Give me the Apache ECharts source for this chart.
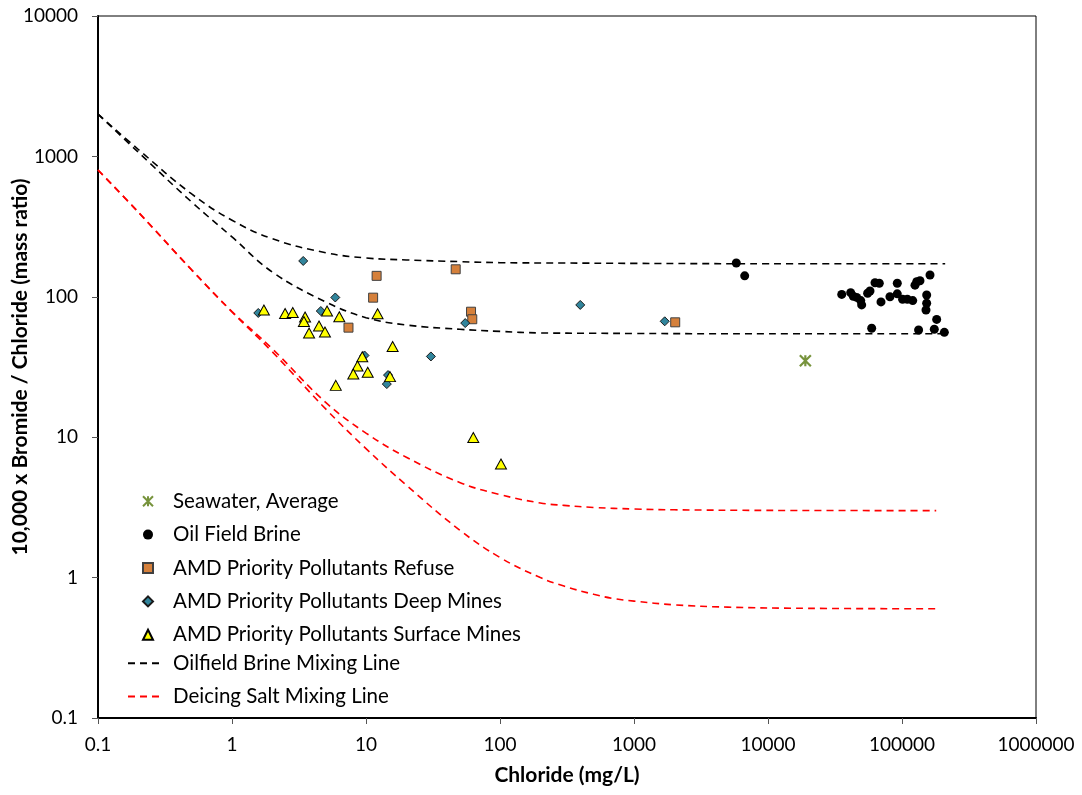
<!DOCTYPE html>
<html>
<head>
<meta charset="utf-8">
<script src="https://cdn.jsdelivr.net/npm/echarts@6/dist/echarts.min.js"></script>
<style>
  html, body { margin: 0; padding: 0; background: #fff; }
  #chart { width: 1082px; height: 795px; }
</style>
</head>
<body>
<div id="chart"></div>
<script>
// [chloride mg/L, 10000 x Br/Cl]
var seawater = [[19000, 35]];
var oilBrine = [
    [5800, 174], [6700, 141], [35500, 104], [41400, 107], [43300, 101], [45900, 99],
    [49200, 94], [50000, 87.5], [55400, 106], [57700, 110], [62900, 126], [67700, 125],
    [69700, 92], [81300, 100], [92200, 125], [92200, 105], [101000, 96], [109600, 96],
    [120200, 94], [125000, 121], [128800, 128], [136200, 130], [161800, 143], [152800, 103],
    [152800, 90], [151000, 80.5], [181500, 69], [59400, 59.7], [133000, 58], [174200, 58.7],
    [207000, 55.8]
];
var refuse = [[12.0, 141], [11.3, 98.6], [7.4, 60.3], [46.7, 157], [60.8, 78.3], [62.1, 69.2], [2030, 65.8]];
var deepMines = [
    [3.4, 180], [5.9, 98.9], [4.6, 79.2], [1.57, 76.7], [9.75, 38.2], [30.5, 37.6],
    [14.6, 27.7], [14.3, 23.9], [55, 65], [397, 87.5], [1695, 66.9]
];
var surfaceMines = [
    [1.73, 80.5], [2.49, 76], [2.84, 77.3], [3.51, 71.8], [3.44, 66.7], [3.76, 55.2],
    [4.46, 61.9], [4.94, 56.1], [5.12, 79.2], [6.32, 72.1], [12.2, 75.8], [15.8, 44.2],
    [9.38, 37.4], [8.64, 32.1], [8.04, 28.2], [10.3, 29], [15.1, 27], [5.95, 23.4],
    [63.2, 9.95], [101.7, 6.44]
];
// mixing lines
var brineHigh = [[0.1, 2000], [0.2, 1120], [0.5, 540], [1, 351], [2, 259], [5, 206], [10, 189],
    [20, 183], [50, 178], [100, 175], [300, 174], [1000, 173], [10000, 172], [210000, 172]];
var brineLow = [[0.1, 2000], [0.2, 1070], [0.5, 473], [1, 267], [2, 150], [5, 92], [10, 71],
    [20, 63], [50, 58.7], [100, 56.7], [200, 55.3], [500, 55], [1000, 54.8], [10000, 54.5], [210000, 54.5]];
var saltHigh = [[0.1, 800], [0.2, 401], [0.5, 156], [1, 78.5], [2, 42.6], [5, 17.7], [10, 10.7],
    [20, 7.2], [50, 4.76], [100, 3.9], [200, 3.4], [300, 3.27], [500, 3.16], [1000, 3.08],
    [2000, 3.04], [10000, 3.01], [180000, 3.0]];
var saltLow = [[0.1, 800], [0.2, 400], [0.5, 155], [1, 78], [2, 40.5], [5, 15.9], [10, 8.3],
    [20, 4.55], [50, 2.18], [100, 1.39], [200, 1.0], [300, 0.87], [500, 0.76], [700, 0.71],
    [1000, 0.68], [2000, 0.64], [5000, 0.616], [20000, 0.604], [180000, 0.6]];

var font = 'Lato';
var starPath = 'path://M0,0 L10,10 M10,0 L0,10 M5,0 L5,10';

function fmt(v) {
    return String(+(+v).toPrecision(6));
}

function mixLine(name, data, color) {
    return {
        name: name,
        type: 'line',
        data: data,
        smooth: 0.4,
        symbol: 'none',
        z: 1,
        lineStyle: {color: color, width: 1.6, type: [7, 5]},
        itemStyle: {color: color}
    };
}

var legendText = {fontFamily: font, fontSize: 20.5, lineHeight: 20, color: '#000'};

var myChart = echarts.init(document.getElementById('chart'));
var option = {
    backgroundColor: '#fff',
    animation: false,
    grid: {
        left: 98, right: 46, top: 16, bottom: 77,
        containLabel: false, outerBoundsMode: 'none',
        show: true, borderColor: '#000', borderWidth: 1
    },
    legend: [{
        orient: 'vertical',
        left: 142,
        top: 490.7,
        padding: 0,
        itemWidth: 10,
        itemHeight: 10,
        itemGap: 12.4,
        textStyle: Object.assign({padding: [0, 0, 0, 15]}, legendText),
        data: ['Seawater, Average', 'Oil Field Brine', 'AMD Priority Pollutants Refuse',
            'AMD Priority Pollutants Deep Mines', 'AMD Priority Pollutants Surface Mines']
    }, {
        orient: 'vertical',
        left: 127,
        top: 652.7,
        padding: 0,
        itemWidth: 33,
        itemHeight: 10,
        itemGap: 12.4,
        itemStyle: {color: 'transparent', borderWidth: 0},
        textStyle: Object.assign({padding: [0, 0, 0, 7]}, legendText),
        data: ['Oilfield Brine Mixing Line', 'Deicing Salt Mixing Line']
    }],
    xAxis: {
        type: 'log',
        logBase: 10,
        min: 0.1,
        max: 1000000,
        name: 'Chloride (mg/L)',
        nameLocation: 'middle',
        nameGap: 47,
        nameMoveOverlap: false,
        nameTextStyle: {fontFamily: font, fontSize: 21, fontWeight: 'bold', color: '#000'},
        axisLine: {lineStyle: {color: '#000', width: 2}},
        axisTick: {inside: false, length: 6, lineStyle: {color: '#555'}},
        minorTick: {show: false},
        splitLine: {show: false},
        axisLabel: {fontFamily: font, fontSize: 19, color: '#000', margin: 17, formatter: fmt}
    },
    yAxis: {
        type: 'log',
        logBase: 10,
        min: 0.1,
        max: 10000,
        name: '10,000 x Bromide / Chloride (mass ratio)',
        nameLocation: 'middle',
        nameGap: 67,
        nameMoveOverlap: false,
        nameTextStyle: {fontFamily: font, fontSize: 21, fontWeight: 'bold', color: '#000'},
        axisLine: {lineStyle: {color: '#000', width: 2}},
        axisTick: {inside: false, length: 6, lineStyle: {color: '#555'}},
        minorTick: {show: false},
        splitLine: {show: false},
        axisLabel: {fontFamily: font, fontSize: 19, color: '#000', margin: 20, formatter: fmt}
    },
    series: [
        {
            name: 'Seawater, Average', type: 'scatter', data: seawater, z: 3,
            symbol: starPath, symbolSize: 11,
            itemStyle: {color: 'transparent', borderColor: '#77933C', borderWidth: 2.2, opacity: 1}
        },
        {
            name: 'Oil Field Brine', type: 'scatter', data: oilBrine, z: 3,
            symbol: 'circle', symbolSize: 9,
            itemStyle: {color: '#000', opacity: 1}
        },
        {
            name: 'AMD Priority Pollutants Refuse', type: 'scatter', data: refuse, z: 3,
            symbol: 'rect', symbolSize: 9,
            itemStyle: {color: '#D5803B', borderColor: '#404040', borderWidth: 1, opacity: 1}
        },
        {
            name: 'AMD Priority Pollutants Deep Mines', type: 'scatter', data: deepMines, z: 3,
            symbol: 'diamond', symbolSize: 9,
            itemStyle: {color: '#31859C', borderColor: '#1a1a1a', borderWidth: 1, opacity: 1}
        },
        {
            name: 'AMD Priority Pollutants Surface Mines', type: 'scatter', data: surfaceMines, z: 4,
            symbol: 'triangle', symbolSize: [11, 10],
            itemStyle: {color: '#FFFF00', borderColor: '#000', borderWidth: 1, opacity: 1}
        },
        mixLine('Oilfield Brine Mixing Line', brineHigh, '#000'),
        mixLine('Oilfield Brine Mixing Line', brineLow, '#000'),
        mixLine('Deicing Salt Mixing Line', saltHigh, '#FF0000'),
        mixLine('Deicing Salt Mixing Line', saltLow, '#FF0000')
    ]
};
myChart.setOption(option);
</script>
</body>
</html>
